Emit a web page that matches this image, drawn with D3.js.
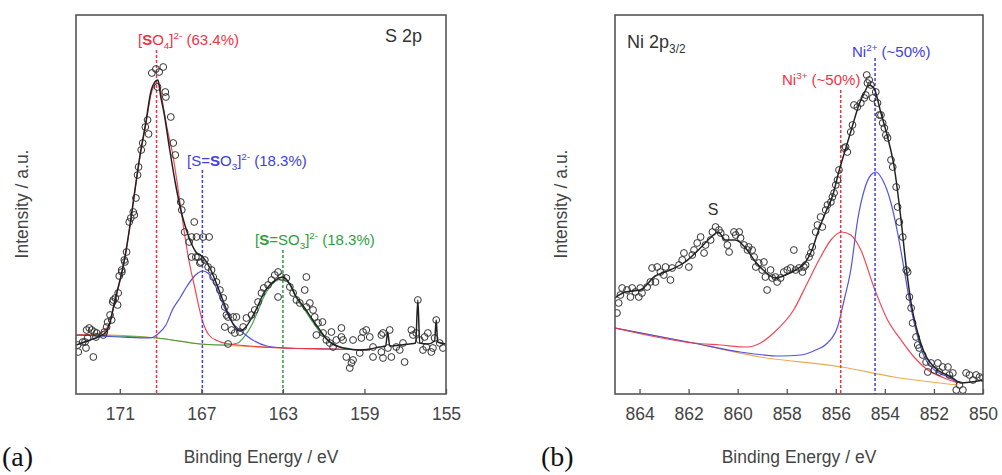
<!DOCTYPE html>
<html>
<head>
<meta charset="utf-8">
<script src="https://cdn.jsdelivr.net/npm/d3@7"></script>
<style>
  html, body { margin: 0; padding: 0; background: #fff; }
  svg { display: block; }
  text { font-family: "Liberation Sans", Arial, sans-serif; }
  text.letter { font-family: "Liberation Serif", "Times New Roman", serif; }
</style>
</head>
<body>
<svg id="chart" width="1002" height="475"></svg>
<script>
// ---------- S 2p spectrum: [binding energy (eV), intensity (a.u.)] ----------
const s2pPoints = [
  [173.07,49],[173.04,42],[172.82,52],[172.71,52],[172.66,46],[172.63,64],[172.58,56],[172.50,66],
  [172.38,64],[172.30,37],[172.25,62],[172.17,57],[172.14,61],[171.81,59],[171.76,62],[171.65,67],
  [171.60,72],[171.48,79],[171.40,74],[171.35,92],[171.32,94],[171.22,96],[171.11,89],[171.08,101],
  [171.03,118],[170.91,124],[170.90,122],[170.78,134],[170.75,132],[170.67,142],[170.54,172],[170.46,176],
  [170.34,182],[170.29,179],[170.21,196],[170.13,219],[170.08,227],[169.95,244],[169.88,251],[169.75,267],
  [169.64,274],[169.59,260],[169.43,321],[169.23,325],[169.15,307],[169.07,322],[168.87,327],[168.77,302],
  [168.74,297],[168.50,277],[168.38,251],[168.28,239],[168.01,192],[167.96,184],[167.82,162],[167.60,152],
  [167.48,157],[167.48,137],[167.35,172],[167.27,137],[167.24,157],[167.16,137],[167.07,131],[167.03,132],
  [166.91,157],[166.83,134],[166.67,127],[166.62,157],[166.50,124],[166.42,117],[166.26,112],[166.09,104],
  [165.93,96],[165.85,87],[165.77,79],[165.85,67],[165.69,77],[165.69,50],[165.52,64],[165.44,77],
  [165.36,61],[165.28,77],[165.11,62],[164.95,67],[164.79,76],[164.54,79],[164.38,84],[164.22,92],
  [164.05,101],[163.94,106],[163.73,109],[163.56,114],[163.40,119],[163.24,122],[163.24,97],[163.07,117],
  [162.83,116],[162.66,107],[162.50,101],[162.34,94],[162.17,91],[161.93,104],[161.85,117],[161.85,87],
  [161.68,91],[161.52,84],[161.44,77],[161.36,59],[161.28,71],[161.06,72],[161.03,61],[160.87,54],
  [160.70,51],[160.62,62],[160.54,47],[160.38,54],[160.13,66],[160.13,57],[160.05,54],[159.89,37],
  [159.72,26],[159.64,31],[159.56,54],[159.56,34],[159.23,41],[159.15,56],[159.07,62],[158.91,64],
  [158.74,57],[158.58,47],[158.58,37],[158.17,42],[158.17,59],[158.09,61],[158.09,36],[157.85,46],
  [157.76,64],[157.68,37],[157.44,47],[157.27,44],[157.11,51],[157.03,32],[156.70,64],[156.62,59],
  [156.46,61],[156.38,94],[156.29,54],[156.13,44],[156.05,57],[155.97,47],[155.89,61],[155.72,42],
  [155.64,46],[155.56,56],[155.48,74],[155.31,51],[155.15,46]
];
const s2pEnvelope = [
  [173.15,49],[172.46,54],[171.97,58],[171.68,62],[171.48,72],[171.29,89],[171.09,106],[170.90,122],
  [170.75,137],[170.50,169],[170.26,204],[170.01,239],[169.72,272],[169.48,302],[169.28,312],[169.13,314],
  [168.99,297],[168.84,282],[168.55,244],[168.25,208],[168.01,184],[167.81,169],[167.56,154],[167.27,142],
  [166.93,137],[166.58,126],[166.29,112],[165.95,94],[165.60,76],[165.31,66],[165.11,63],[164.82,67],
  [164.53,76],[164.23,88],[163.94,101],[163.64,109],[163.35,114],[163.01,117],[162.66,110],[162.37,98],
  [161.93,86],[161.54,74],[161.19,64],[160.90,56],[160.56,50],[160.21,47],[159.72,45],[159.23,44],
  [158.74,45],[158.25,47],[157.96,48],[157.86,62],[157.76,48],[157.27,49],[156.78,50],[156.49,51],
  [156.38,94],[156.29,51],[155.90,50],[155.56,53],[155.48,74],[155.41,52],[155.02,50]
];
const s2pSulfate = [
  [173.15,59],[172.17,60],[171.78,63],[171.48,72],[171.29,88],[171.09,105],[170.90,121],[170.75,136],
  [170.50,168],[170.26,203],[170.01,237],[169.72,270],[169.48,299],[169.28,309],[169.18,311],[169.03,306],
  [168.84,284],[168.74,272],[168.40,239],[168.15,206],[167.91,172],[167.66,139],[167.32,106],[166.93,72],
  [166.63,59],[166.19,53],[165.60,50],[164.62,48],[163.01,46],[160.70,45],[158.74,44]
];
const s2pThioOuter = [
  [173.15,59],[171.00,57],[169.53,56],[169.13,60],[168.74,69],[168.40,85],[168.05,96],[167.76,106],
  [167.42,116],[167.17,121],[166.94,123],[166.68,121],[166.44,114],[166.09,97],[165.75,81],[165.46,71],
  [165.11,64],[164.48,54],[163.79,48],[162.81,46],[160.70,45],[158.74,44]
];
const s2pThioInner = [
  [173.15,59],[169.18,56],[167.07,50],[165.85,49],[165.21,51],[164.87,58],[164.53,69],[164.23,83],
  [163.94,97],[163.64,107],[163.35,113],[163.01,115],[162.66,109],[162.37,97],[161.93,84],[161.54,72],
  [161.19,62],[160.70,52],[160.21,47],[159.23,44],[158.74,44]
];
const s2pBackground = [
  [173.15,59],[171.48,59],[169.18,56],[167.00,50],[165.11,48],[163.01,46],[160.70,45],[158.74,44]
];
const s2pPeakPositions = [169.2, 166.95, 163.0];
const s2pMarkerTops = [344, 224, 144];
const s2pTicks = [171, 167, 163, 159, 155];

// ---------- Ni 2p3/2 spectrum ----------
const ni2pPoints = [
  [864.92,81],[864.85,91],[864.78,99],[864.71,106],[864.51,104],[864.37,97],[864.30,106],[864.17,102],
  [864.03,97],[863.97,106],[863.90,101],[863.69,107],[863.56,112],[863.49,126],[863.35,112],[863.28,127],
  [863.15,122],[863.01,119],[862.94,127],[862.74,114],[862.67,126],[862.39,129],[862.26,134],[862.19,141],
  [861.99,127],[861.85,139],[861.78,144],[861.65,151],[861.51,157],[861.37,141],[861.31,149],[861.10,154],
  [861.03,162],[860.90,167],[860.76,164],[860.69,161],[860.49,156],[860.42,149],[860.35,142],[860.15,162],
  [860.08,159],[859.94,162],[859.88,156],[859.74,149],[859.60,144],[859.55,147],[859.41,144],[859.33,137],
  [859.26,127],[859.14,131],[859.00,124],[858.93,132],[858.87,117],[858.80,104],[858.66,124],[858.59,116],
  [858.46,117],[858.39,112],[858.25,116],[858.12,122],[857.98,124],[857.84,126],[857.71,144],[857.64,124],
  [857.50,126],[857.36,122],[857.30,127],[857.23,129],[857.09,137],[857.02,141],[856.96,147],[856.82,162],
  [856.75,169],[856.62,177],[856.55,167],[856.41,184],[856.34,189],[856.20,192],[856.14,197],[856.07,201],
  [856.00,209],[855.93,214],[855.87,224],[855.66,246],[855.60,247],[855.53,242],[855.39,262],[855.32,269],
  [855.26,289],[855.12,287],[854.98,291],[854.84,296],[854.78,299],[854.74,319],[854.71,311],[854.64,314],
  [854.57,309],[854.50,296],[854.37,302],[854.30,291],[854.23,279],[854.16,279],[854.09,271],[854.02,266],
  [853.96,259],[853.89,256],[853.75,234],[853.68,227],[853.54,207],[853.48,187],[853.41,172],[853.27,157],
  [853.13,124],[853.07,122],[853.00,97],[852.93,86],[852.87,71],[852.73,57],[852.66,49],[852.60,46],
  [852.46,39],[852.32,32],[852.25,22],[852.12,31],[851.98,24],[851.84,31],[851.78,22],[851.64,27],
  [851.43,27],[851.37,19],[851.23,21],[851.09,4],[850.96,9],[850.82,4],[850.69,21],[850.55,19],
  [850.41,14],[850.28,19],[850.14,17],[850.00,16]
];
const ni2pEnvelope = [
  [865.00,96],[864.59,102],[863.98,104],[863.36,118],[862.75,124],[862.14,132],[861.52,146],[861.03,158],
  [860.79,162],[860.50,154],[860.09,154],[859.68,146],[859.27,132],[858.87,122],[858.46,116],[858.05,119],
  [857.64,124],[857.23,132],[856.94,146],[856.70,164],[856.41,182],[856.12,199],[855.88,222],[855.59,246],
  [855.31,269],[855.06,289],[854.82,302],[854.65,309],[854.45,306],[854.16,281],[853.89,257],[853.62,227],
  [853.34,174],[853.13,127],[852.93,91],[852.66,61],[852.39,41],[851.99,27],[851.30,17],[850.89,11],
  [850.48,12],[849.95,14]
];
const ni3Component = [
  [865.00,66],[861.81,51],[860.71,49],[859.61,47],[859.07,51],[858.54,61],[857.72,84],[857.16,111],
  [856.62,137],[856.20,154],[855.76,162],[855.39,159],[854.98,144],[854.45,107],[853.89,74],[853.34,54],
  [852.81,37],[852.25,24],[851.58,16],[851.02,11]
];
const ni2Component = [
  [865.00,66],[861.81,51],[859.89,42],[858.25,38],[857.43,39],[856.82,44],[856.34,51],[855.93,67],
  [855.66,94],[855.39,124],[855.11,174],[854.84,204],[854.57,219],[854.36,222],[854.09,214],[853.75,191],
  [853.48,161],[853.21,124],[853.00,94],[852.66,57],[852.39,37],[851.98,24],[851.43,17],[851.02,11]
];
const niBackground = [
  [865.00,66],[861.81,51],[859.07,37],[855.76,27],[853.63,17],[851.01,9]
];
const niPeakPositions = [855.8, 854.4];
const niMarkerTops = [304, 336];
const niTicks = [864, 862, 860, 858, 856, 854, 852, 850];

// ---------- layout ----------
const svg = d3.select("#chart");
const plotTop = 15, plotBottom = 394;
const y = d3.scaleLinear().domain([0, 379]).range([plotBottom, plotTop]);

const COLORS = {
  frame: "#555", text: "#444", data: "#333", fit: "#222",
  red: "#ee3344", blue: "#4040e0", green: "#2e9e3e", bg: "#e8a23c"
};

function panel(opts) {
  const x = d3.scaleLinear().domain(opts.domain).range(opts.range);
  const g = svg.append("g");
  const line = d3.line().x(d => x(d[0])).y(d => y(d[1])).curve(d3.curveMonotoneX);

  const clipId = "clip-" + opts.id;
  svg.append("clipPath").attr("id", clipId).append("rect")
    .attr("x", opts.range[0]).attr("y", plotTop)
    .attr("width", opts.range[1] - opts.range[0]).attr("height", plotBottom - plotTop);
  const plot = g.append("g").attr("clip-path", `url(#${clipId})`);

  // fitted components under the measured points
  opts.curves.forEach(c => {
    plot.append("path").datum(c.data).attr("d", line)
      .attr("fill", "none").attr("stroke", c.color).attr("stroke-width", c.width || 1.2)
      .attr("stroke-opacity", 0.9);
  });

  // dashed markers at the peak positions
  opts.markers.forEach(m => {
    plot.append("line")
      .attr("x1", x(m.e)).attr("x2", x(m.e)).attr("y1", y(m.top)).attr("y2", plotBottom)
      .attr("stroke", m.color).attr("stroke-width", 1.5).attr("stroke-dasharray", "3,2");
  });

  // measured points
  plot.append("g").selectAll("circle").data(opts.points).join("circle")
    .attr("cx", d => x(d[0])).attr("cy", d => y(d[1])).attr("r", 3.4)
    .attr("fill", "none").attr("stroke", COLORS.data).attr("stroke-width", 1);

  // envelope on top
  plot.append("path").datum(opts.envelope).attr("d", line)
    .attr("fill", "none").attr("stroke", COLORS.fit).attr("stroke-width", 1.5);

  // bottom axis, ticks pointing inward
  const axis = d3.axisBottom(x).tickValues(opts.ticks).tickSizeInner(-5).tickSizeOuter(0).tickPadding(14);
  const ax = g.append("g").attr("transform", `translate(0,${plotBottom})`).call(axis);
  ax.select(".domain").remove();
  ax.selectAll("line").attr("stroke", COLORS.frame).attr("stroke-width", 1.3);
  ax.selectAll("text").attr("font-size", 17.5).attr("fill", COLORS.text);

  // frame
  g.append("rect").attr("x", opts.range[0]).attr("y", plotTop)
    .attr("width", opts.range[1] - opts.range[0]).attr("height", plotBottom - plotTop)
    .attr("fill", "none").attr("stroke", COLORS.frame).attr("stroke-width", 1.6);

  // axis titles
  const cx = (opts.range[0] + opts.range[1]) / 2;
  g.append("text").attr("x", cx).attr("y", 463).attr("text-anchor", "middle")
    .attr("font-size", 17.5).attr("fill", COLORS.text).text("Binding Energy / eV");
  g.append("text").attr("transform", `translate(${opts.range[0] - 48},${204}) rotate(-90)`)
    .attr("text-anchor", "middle").attr("font-size", 17.5).attr("fill", COLORS.text)
    .text("Intensity / a.u.");

  // panel letter
  g.append("text").attr("class", "letter").attr("x", opts.range[0] - 74).attr("y", 466)
    .attr("font-size", 28).attr("fill", "#111").text(opts.letter);

  return { x, g };
}

// rich text with bold / sub / sup pieces
function rich(g, x, y0, parts, color, size) {
  const t = g.append("text").attr("x", x).attr("y", y0).attr("fill", color).attr("font-size", size);
  let shift = 0;
  parts.forEach(p => {
    const s = t.append("tspan").text(p.t);
    let target = 0;
    if (p.sub) target = size * 0.28;
    if (p.sup) target = -size * 0.38;
    s.attr("dy", target - shift);
    shift = target;
    if (p.sub || p.sup) s.attr("font-size", size * 0.66);
    if (p.b) s.attr("font-weight", "bold");
  });
  return t;
}

// ---------- (a) S 2p ----------
const left = panel({
  id: "s2p", letter: "(a)", domain: [173.15, 155], range: [76, 446],
  points: s2pPoints, envelope: s2pEnvelope, ticks: s2pTicks,
  curves: [
    { data: s2pBackground, color: COLORS.bg },
    { data: s2pThioInner, color: COLORS.green },
    { data: s2pThioOuter, color: COLORS.blue },
    { data: s2pSulfate, color: COLORS.red }
  ],
  markers: [
    { e: s2pPeakPositions[0], top: s2pMarkerTops[0], color: COLORS.red },
    { e: s2pPeakPositions[1], top: s2pMarkerTops[1], color: COLORS.blue },
    { e: s2pPeakPositions[2], top: s2pMarkerTops[2], color: COLORS.green }
  ]
});
rich(left.g, 138, 45, [{t:"["},{t:"S",b:1},{t:"O"},{t:"4",sub:1},{t:"]"},{t:"2-",sup:1},{t:" (63.4%)"}], COLORS.red, 15);
rich(left.g, 187, 166, [{t:"[S="},{t:"S",b:1},{t:"O"},{t:"3",sub:1},{t:"]"},{t:"2-",sup:1},{t:" (18.3%)"}], COLORS.blue, 15);
rich(left.g, 255, 245, [{t:"["},{t:"S",b:1},{t:"=SO"},{t:"3",sub:1},{t:"]"},{t:"2-",sup:1},{t:" (18.3%)"}], COLORS.green, 15);
left.g.append("text").attr("x", 385).attr("y", 42).attr("font-size", 18).attr("fill", "#333").text("S 2p");

// ---------- (b) Ni 2p3/2 ----------
const right = panel({
  id: "ni2p", letter: "(b)", domain: [865, 850], range: [615, 983],
  points: ni2pPoints, envelope: ni2pEnvelope, ticks: niTicks,
  curves: [
    { data: niBackground, color: COLORS.bg },
    { data: ni2Component, color: COLORS.blue },
    { data: ni3Component, color: COLORS.red }
  ],
  markers: [
    { e: niPeakPositions[0], top: niMarkerTops[0], color: COLORS.red },
    { e: niPeakPositions[1], top: niMarkerTops[1], color: COLORS.blue }
  ]
});
rich(right.g, 782, 85, [{t:"Ni"},{t:"3+",sup:1},{t:" (~50%)"}], COLORS.red, 15);
rich(right.g, 852, 57, [{t:"Ni"},{t:"2+",sup:1},{t:" (~50%)"}], COLORS.blue, 15);
rich(right.g, 627, 48, [{t:"Ni 2p"},{t:"3/2",sub:1}], "#333", 18);
right.g.append("text").attr("x", right.x(861)).attr("y", 215).attr("text-anchor", "middle")
  .attr("font-size", 16).attr("fill", "#333").text("S");
</script>
</body>
</html>
